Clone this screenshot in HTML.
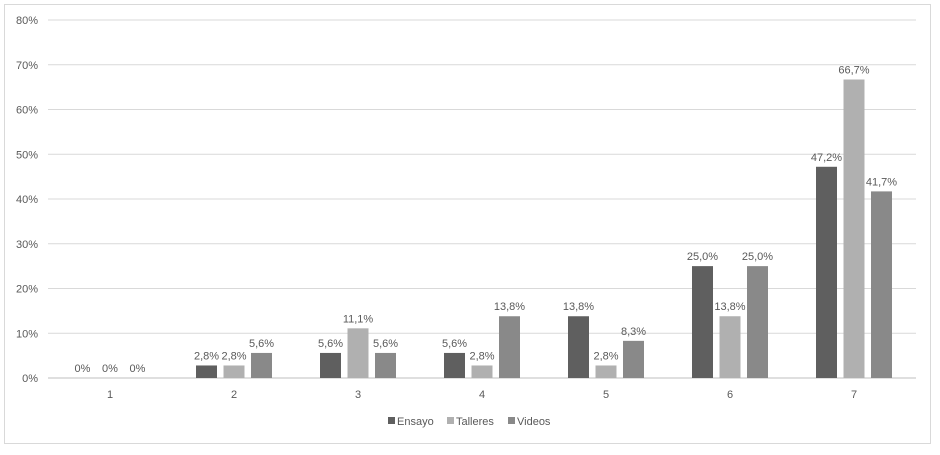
<!DOCTYPE html>
<html><head><meta charset="utf-8"><style>
body{margin:0;background:#fff;font-family:"Liberation Sans",sans-serif}
svg text{font-family:"Liberation Sans",sans-serif;font-size:11px;fill:#595959}
</style></head><body>
<svg width="940" height="450">
<rect x="4.5" y="4.5" width="926" height="439" fill="#fff" stroke="#d9d9d9"/>
<g id="grid"></g><g id="bars"></g><g id="labels"></g>
<g>
<rect x="388" y="417" width="7" height="7" fill="#5f5f5f"/>
<text x="397" y="425">Ensayo</text>
<rect x="447" y="417" width="7" height="7" fill="#b0b0b0"/>
<text x="456" y="425">Talleres</text>
<rect x="508" y="417" width="7" height="7" fill="#898989"/>
<text x="517" y="425">Videos</text>
</g>
</svg>
<script>
const categories=["1","2","3","4","5","6","7"];
const ensayo=[0,2.8,5.6,5.6,13.8,25.0,47.2];
const talleres=[0,2.8,11.1,2.8,2.8,13.8,66.7];
const videos=[0,5.6,5.6,13.8,8.3,25.0,41.7];
const ticks=[0,10,20,30,40,50,60,70,80];
const NS="http://www.w3.org/2000/svg";
const x0=48,x1=916,y0=378,y1=20;
const y=v=>y0-(v/80)*(y0-y1);
const band=(x1-x0)/categories.length;
const cx=i=>x0+band*(i+0.5);
function mk(t,a,p){const e=document.createElementNS(NS,t);for(const k in a)e.setAttribute(k,a[k]);p.appendChild(e);return e;}
const g=document.getElementById('grid'),b=document.getElementById('bars'),l=document.getElementById('labels');
ticks.forEach(t=>{
 const ln=mk('line',{x1:x0,x2:x1,y1:y(t),y2:y(t),stroke:t===0?'#bfbfbf':'#d9d9d9'},g);
 
 
 const tx=mk('text',{x:38,y:y(t)+4,'text-anchor':'end'},g);tx.textContent=t+'%';
 
 
});
categories.forEach((c,i)=>{
 const tx=mk('text',{x:cx(i),y:398,'text-anchor':'middle'},g);tx.textContent=c;
 
 
});
const series=[["ensayo",ensayo,"#5f5f5f",-27.5],["talleres",talleres,"#b0b0b0",0],["videos",videos,"#898989",27.5]];
series.forEach(([n,vals,col,off])=>{
 vals.forEach((v,i)=>{
  const xc=cx(i)+off;
  if(v>0){
   const r=mk('rect',{x:xc-10.5,y:y(v),width:21,height:y0-y(v),fill:col},b);
   
   
  }
  const tx=mk('text',{x:xc,y:y(v)-6,'text-anchor':'middle'},l);
  tx.textContent=v===0?'0%':v.toFixed(1).replace('.',',')+'%';
  
  
 });
});
</script>
</body></html>
